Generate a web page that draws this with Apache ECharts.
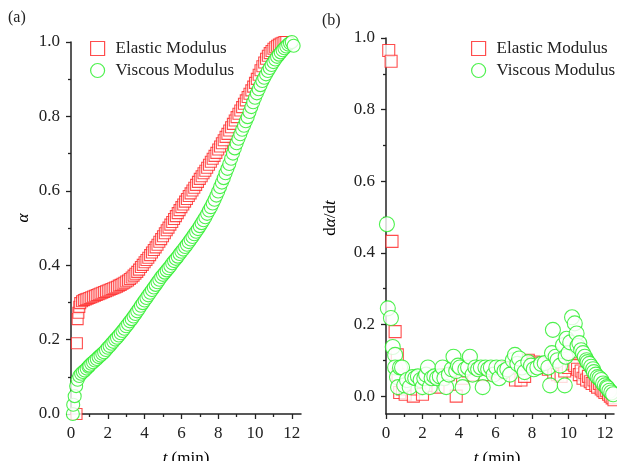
<!DOCTYPE html>
<html><head><meta charset="utf-8">
<script src="https://cdn.jsdelivr.net/npm/echarts@6/dist/echarts.min.js"></script>
<style>html,body{margin:0;padding:0;background:#fff}#c{width:617px;height:461px}</style>
</head><body><div id="c"></div>
<script>
// ---- tick values ----
const xTicks = [0, 2, 4, 6, 8, 10, 12];
const xMinor = [1, 3, 5, 7, 9, 11];
const yTicks = [0, 0.2, 0.4, 0.6, 0.8, 1.0];
const yMinor = [0.1, 0.3, 0.5, 0.7, 0.9];

// ---- panel (a): alpha vs t ----
const elasticT = [0.30,0.32,0.36,0.40,0.45,0.50,0.6,0.7,0.8,0.9,1.0,1.1,1.2,1.3,1.4,1.5,1.6,1.7,1.8,1.9,2.0,2.1,2.2,2.3,2.4,2.5,2.6,2.7,2.8,2.9,3.0,3.1,3.2,3.3,3.4,3.5,3.6,3.7,3.8,3.9,4.0,4.1,4.2,4.3,4.4,4.5,4.6,4.7,4.8,4.9,5.0,5.1,5.2,5.3,5.4,5.5,5.6,5.7,5.8,5.9,6.0,6.1,6.2,6.3,6.4,6.5,6.6,6.7,6.8,6.9,7.0,7.1,7.2,7.3,7.4,7.5,7.6,7.7,7.8,7.9,8.0,8.1,8.2,8.3,8.4,8.5,8.6,8.7,8.8,8.9,9.0,9.1,9.2,9.3,9.4,9.5,9.6,9.7,9.8,9.9,10.0,10.1,10.2,10.3,10.4,10.5,10.6,10.7,10.8,10.9,11.0,11.1,11.2,11.3,11.4,11.5,11.6,11.7];
const elasticA = [0.00,0.19,0.255,0.272,0.288,0.298,0.303,0.306,0.308,0.310,0.312,0.314,0.316,0.318,0.320,0.322,0.324,0.326,0.328,0.330,0.332,0.334,0.336,0.338,0.340,0.342,0.345,0.347,0.350,0.353,0.356,0.359,0.363,0.367,0.372,0.377,0.382,0.388,0.395,0.401,0.408,0.414,0.420,0.427,0.434,0.441,0.448,0.455,0.463,0.470,0.478,0.486,0.494,0.501,0.509,0.516,0.524,0.532,0.540,0.548,0.556,0.563,0.571,0.578,0.586,0.593,0.601,0.608,0.616,0.624,0.632,0.639,0.647,0.654,0.662,0.670,0.678,0.686,0.694,0.702,0.711,0.719,0.728,0.736,0.745,0.753,0.762,0.771,0.780,0.789,0.798,0.807,0.816,0.825,0.834,0.843,0.852,0.861,0.870,0.880,0.890,0.901,0.912,0.924,0.935,0.945,0.955,0.963,0.970,0.976,0.982,0.986,0.990,0.993,0.996,0.998,1.000,1.000];
const viscousT = [0.10,0.12,0.20,0.28,0.36,0.45,0.55,0.65,0.75,0.85,0.95,1.0,1.1,1.2,1.3,1.4,1.5,1.6,1.7,1.8,1.9,2.0,2.1,2.2,2.3,2.4,2.5,2.6,2.7,2.8,2.9,3.0,3.1,3.2,3.3,3.4,3.5,3.6,3.7,3.8,3.9,4.0,4.1,4.2,4.3,4.4,4.5,4.6,4.7,4.8,4.9,5.0,5.1,5.2,5.3,5.4,5.5,5.6,5.7,5.8,5.9,6.0,6.1,6.2,6.3,6.4,6.5,6.6,6.7,6.8,6.9,7.0,7.1,7.2,7.3,7.4,7.5,7.6,7.7,7.8,7.9,8.0,8.1,8.2,8.3,8.4,8.5,8.6,8.7,8.8,8.9,9.0,9.1,9.2,9.3,9.4,9.5,9.6,9.7,9.8,9.9,10.0,10.1,10.2,10.3,10.4,10.5,10.6,10.7,10.8,10.9,11.0,11.1,11.2,11.3,11.4,11.5,11.6,11.7,11.8,11.9,12.0,12.1];
const viscousA = [0.000,0.025,0.048,0.075,0.092,0.102,0.108,0.113,0.117,0.122,0.127,0.130,0.135,0.139,0.144,0.148,0.153,0.157,0.162,0.166,0.172,0.178,0.183,0.189,0.194,0.200,0.205,0.211,0.217,0.223,0.229,0.236,0.242,0.249,0.255,0.262,0.269,0.276,0.283,0.291,0.298,0.305,0.312,0.319,0.326,0.333,0.340,0.347,0.354,0.361,0.368,0.374,0.380,0.386,0.392,0.398,0.405,0.411,0.417,0.423,0.430,0.436,0.442,0.449,0.455,0.462,0.469,0.476,0.483,0.490,0.497,0.505,0.513,0.521,0.529,0.538,0.547,0.556,0.566,0.576,0.587,0.598,0.610,0.622,0.634,0.647,0.659,0.672,0.686,0.700,0.714,0.728,0.740,0.752,0.764,0.775,0.787,0.798,0.812,0.825,0.838,0.850,0.862,0.873,0.884,0.895,0.904,0.913,0.922,0.930,0.938,0.946,0.953,0.960,0.966,0.972,0.978,0.983,0.988,0.993,0.997,1.000,0.990];

// ---- panel (b): d alpha / dt vs t ----
const elasticRateT = [0.15,0.28,0.33,0.50,0.62,0.66,0.75,0.9,1.05,1.25,1.5,1.7,2.0,2.2,2.5,2.85,3.1,3.4,3.85,4.2,4.5,4.8,5.1,5.4,5.7,6.0,6.3,6.6,6.9,7.1,7.4,7.6,7.8,8.1,8.3,8.6,8.9,9.2,9.4,9.6,9.8,10.0,10.2,10.35,10.5,10.6,10.7,10.8,10.9,11.0,11.1,11.2,11.3,11.4,11.5,11.6,11.7,11.8,11.9,12.0,12.1,12.2,12.3,12.4,12.5];
const elasticRate = [0.965,0.935,0.432,0.18,0.115,0.06,0.01,0.02,0.005,0.03,0.0,0.02,0.005,0.04,0.03,0.025,0.05,0.06,0.0,0.05,0.07,0.06,0.075,0.06,0.075,0.07,0.065,0.08,0.07,0.045,0.045,0.055,0.1,0.095,0.09,0.08,0.075,0.065,0.06,0.055,0.07,0.08,0.09,0.085,0.075,0.06,0.07,0.05,0.065,0.045,0.055,0.04,0.035,0.045,0.03,0.025,0.035,0.02,0.015,0.01,0.015,0.005,0.0,-0.005,-0.01];
const viscousRateT = [0.05,0.10,0.27,0.37,0.50,0.50,0.60,0.66,0.77,0.88,1.0,1.15,1.3,1.45,1.6,1.75,1.9,2.0,2.1,2.2,2.3,2.4,2.5,2.65,2.8,2.95,3.1,3.2,3.3,3.45,3.6,3.7,3.85,3.95,4.05,4.2,4.35,4.5,4.6,4.75,4.9,5.05,5.2,5.3,5.45,5.6,5.75,5.9,6.05,6.2,6.35,6.5,6.65,6.8,6.95,7.07,7.2,7.3,7.45,7.6,7.8,7.95,8.1,8.3,8.5,8.7,8.9,9.0,9.1,9.15,9.3,9.4,9.55,9.7,9.8,9.85,9.9,10.0,10.1,10.2,10.35,10.45,10.5,10.6,10.7,10.8,10.9,11.0,11.05,11.15,11.25,11.35,11.4,11.5,11.6,11.7,11.8,11.9,12.0,12.1,12.15,12.25,12.35,12.45];
const viscousRate = [0.48,0.245,0.218,0.137,0.115,0.08,0.053,0.025,0.08,0.08,0.03,0.045,0.025,0.053,0.05,0.055,0.045,0.025,0.05,0.06,0.08,0.025,0.05,0.055,0.05,0.055,0.08,0.05,0.025,0.06,0.075,0.11,0.07,0.085,0.08,0.025,0.075,0.08,0.11,0.06,0.08,0.075,0.08,0.025,0.08,0.075,0.08,0.06,0.08,0.05,0.08,0.07,0.075,0.06,0.1,0.115,0.09,0.105,0.08,0.067,0.095,0.085,0.075,0.08,0.09,0.092,0.08,0.03,0.12,0.185,0.11,0.1,0.085,0.142,0.03,0.11,0.16,0.12,0.15,0.22,0.203,0.175,0.14,0.148,0.128,0.12,0.11,0.1,0.095,0.09,0.082,0.075,0.067,0.06,0.053,0.05,0.045,0.035,0.03,0.025,0.022,0.015,0.01,0.005];

const RED = '#ff2020', GREEN = '#22ee22';
const FONT = '"Liberation Serif", "Times New Roman", serif';
const INK = '#222';

function pairs(xs, ys) { return xs.map((x, i) => [x, ys[i]]); }

function xAxes(grid) {
  const base = { type: 'value', gridIndex: grid, min: 0, max: 12.5, position: 'bottom', splitLine: { show: false } };
  return [
    Object.assign({}, base, {
      axisLine: { show: true, onZero: false, lineStyle: { color: INK, width: 1.5 } },
      axisTick: { show: true, customValues: xTicks, length: 5, lineStyle: { color: INK, width: 1.3 } },
      axisLabel: { customValues: xTicks, fontFamily: FONT, fontSize: 17, color: INK, margin: 11 }
    }),
    Object.assign({}, base, {
      axisLine: { show: false, onZero: false },
      axisTick: { show: true, customValues: xMinor, length: 3, lineStyle: { color: INK, width: 1.3 } },
      axisLabel: { show: false }
    })
  ];
}
function yAxes(grid, min) {
  const base = { type: 'value', gridIndex: grid, min: min, max: 1.0, position: 'left', splitLine: { show: false } };
  return [
    Object.assign({}, base, {
      axisLine: { show: true, onZero: false, lineStyle: { color: INK, width: 1.5 } },
      axisTick: { show: true, customValues: yTicks, length: 5, lineStyle: { color: INK, width: 1.3 } },
      axisLabel: { customValues: yTicks, fontFamily: FONT, fontSize: 17, color: INK, margin: 11,
                   formatter: v => v.toFixed(1) }
    }),
    Object.assign({}, base, {
      axisLine: { show: false, onZero: false },
      axisTick: { show: true, customValues: yMinor, length: 3, lineStyle: { color: INK, width: 1.3 } },
      axisLabel: { show: false }
    })
  ];
}

function legendFor(left, top) {
  return {
    left: left, top: top, orient: 'vertical', selectedMode: false,
    itemWidth: 14, itemHeight: 14, itemGap: 5,
    textStyle: { fontFamily: FONT, fontSize: 17, color: INK, padding: [0, 0, 0, 6] },
    data: [
      { name: 'Elastic Modulus', icon: 'rect', itemStyle: { color: '#fff', borderColor: RED, borderWidth: 1.2 } },
      { name: 'Viscous Modulus', icon: 'circle', itemStyle: { color: '#fff', borderColor: GREEN, borderWidth: 1.2 } }
    ]
  };
}

function sq(name, data, xi, yi, size) {
  return { name: name, type: 'scatter', xAxisIndex: xi, yAxisIndex: yi, data: data, symbol: 'rect', symbolSize: size,
    itemStyle: { color: '#fff', borderColor: RED, borderWidth: 1.1 }, emphasis: { disabled: true }, animation: false };
}
function ci(name, data, xi, yi, size) {
  return { name: name, type: 'scatter', xAxisIndex: xi, yAxisIndex: yi, data: data, symbol: 'circle', symbolSize: size,
    itemStyle: { color: '#fff', borderColor: GREEN, borderWidth: 1.1 }, emphasis: { disabled: true }, animation: false };
}

const chart = echarts.init(document.getElementById('c'), null, { renderer: 'canvas' });
chart.setOption({
  backgroundColor: '#fff',
  animation: false,
  grid: [
    { left: 71, top: 42, width: 230, height: 372 },
    { left: 386, top: 38, width: 228, height: 376 }
  ],
  xAxis: xAxes(0).concat(xAxes(1)),
  yAxis: yAxes(0, 0).concat(yAxes(1, -0.05)),
  legend: [legendFor(85, 35), legendFor(466, 35)],
  series: [
    sq('Elastic Modulus', pairs(elasticT, elasticA), 0, 0, 11),
    ci('Viscous Modulus', pairs(viscousT, viscousA), 0, 0, 13),
    sq('Elastic Modulus', pairs(elasticRateT, elasticRate), 2, 2, 12),
    ci('Viscous Modulus', pairs(viscousRateT, viscousRate), 2, 2, 15)
  ],
  graphic: [
    { type: 'text', x: 8, y: 10, style: { text: '(a)', font: '16px ' + FONT, fill: INK } },
    { type: 'text', x: 322, y: 13, style: { text: '(b)', font: '16px ' + FONT, fill: INK } },
    { type: 'text', x: 24, y: 218, rotation: Math.PI / 2,
      style: { text: '{i|α}', align: 'center', verticalAlign: 'middle',
               rich: { i: { fontFamily: FONT, fontSize: 17, fontStyle: 'italic', color: INK } } } },
    { type: 'text', x: 331, y: 218, rotation: Math.PI / 2,
      style: { text: '{n|d}{i|α}{n|/d}{i|t}', align: 'center', verticalAlign: 'middle',
               rich: { n: { fontFamily: FONT, fontSize: 17, color: INK }, i: { fontFamily: FONT, fontSize: 17, fontStyle: 'italic', color: INK } } } },
    { type: 'text', x: 186, y: 450,
      style: { text: '{i|t}{n| (min)}', align: 'center', verticalAlign: 'top',
               rich: { n: { fontFamily: FONT, fontSize: 17, color: INK }, i: { fontFamily: FONT, fontSize: 17, fontStyle: 'italic', color: INK } } } },
    { type: 'text', x: 497, y: 450,
      style: { text: '{i|t}{n| (min)}', align: 'center', verticalAlign: 'top',
               rich: { n: { fontFamily: FONT, fontSize: 17, color: INK }, i: { fontFamily: FONT, fontSize: 17, fontStyle: 'italic', color: INK } } } }
  ]
});
</script></body></html>
